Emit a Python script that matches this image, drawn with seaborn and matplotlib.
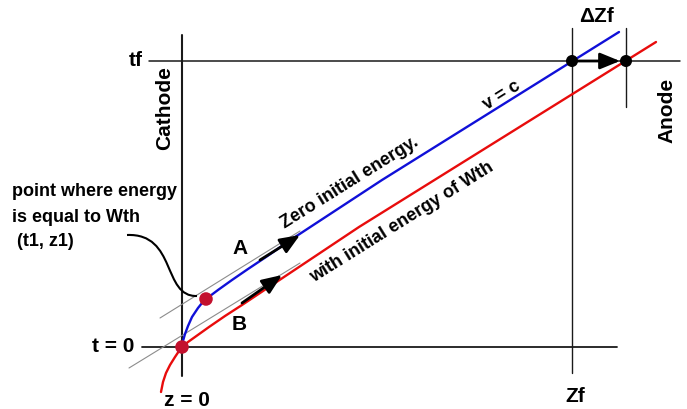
import matplotlib
matplotlib.use("Agg")
import matplotlib.pyplot as plt
from matplotlib.path import Path
from matplotlib.patches import PathPatch
import seaborn as sns

# z = distance from cathode, t = time (picture units, origin at z=0, t=0)
blue_z = [0, 1, 3, 6, 10, 16, 20, 24, 36, 50, 66, 84, 110, 200, 437]
blue_t = [0, 6, 13, 21, 30, 39, 44, 48, 57, 67, 78, 90, 108, 167, 315]

red_z = [-21, -19, -16, -12, -7, -3, 0, 6, 13, 27, 43, 60, 87, 177, 474]
red_t = [-45, -35, -26, -18, -10, -4, 0, 5, 10, 20, 31, 42, 60, 120, 305]

# thin tangent (asymptote) guides
guide_blue_z = [-22, 118]
guide_blue_t = [29, 116]
guide_red_z = [-53, 118]
guide_red_t = [-21, 84]

t_final = 286
z_final = 390
z_final_shift = 444

# red dots: start (0, 0) and point where energy = Wth (z1, t1)
red_dot_z = [0, 24]
red_dot_t = [0, 48]
black_dot_z = [z_final, z_final_shift]
black_dot_t = [t_final, t_final]

arrow_a = [(78, 87), (118, 112)]
arrow_b = [(60, 44), (100, 72)]
arrow_dz = [(z_final, t_final), (z_final_shift - 6, t_final)]

callout_path = [(-55, 112), (-5, 114), (-20, 50), (15, 51)]
callout_lines = ["point where energy", "is equal to Wth", " (t1, z1)"]

sns.set_theme(style="white")
plt.rcParams["font.family"] = ["Liberation Sans", "DejaVu Sans"]

fig = plt.figure(figsize=(6.87, 4.09), dpi=100)
ax = fig.add_axes([0, 0, 1, 1])
ax.set_xlim(-182, 505)
ax.set_ylim(-62, 347)
ax.axis("off")

ink = "#1a1a1a"
# frame lines
ax.plot([0, 0], [-29, 312], color=ink, lw=1.5, zorder=1)
ax.plot([-40, 435], [0, 0], color=ink, lw=1.3, zorder=1)
ax.plot([-33, 498], [t_final, t_final], color=ink, lw=1.1, zorder=1)
ax.plot([z_final, z_final], [-26, 319], color=ink, lw=1.0, zorder=1)
ax.plot([z_final_shift, z_final_shift], [240, 319], color=ink, lw=1.0, zorder=1)

# asymptote guides
ax.plot(guide_blue_z, guide_blue_t, color="#8c8c8c", lw=0.8, zorder=2)
ax.plot(guide_red_z, guide_red_t, color="#8c8c8c", lw=0.8, zorder=2)

# trajectories
sns.lineplot(x=blue_z, y=blue_t, sort=False, estimator=None, color="#1010d8", lw=1.7, ax=ax, zorder=3)
sns.lineplot(x=red_z, y=red_t, sort=False, estimator=None, color="#e80c0c", lw=1.7, ax=ax, zorder=3)

# arrows
for (start, tip) in [arrow_a, arrow_b, arrow_dz]:
    ax.annotate("", xy=tip, xytext=start,
                arrowprops=dict(arrowstyle="-|>,head_length=1.1,head_width=0.45",
                                mutation_scale=11, lw=2.0, color="black",
                                shrinkA=0, shrinkB=0), zorder=4)

# dots
ax.scatter(red_dot_z, red_dot_t, s=95, color="#c3112e", edgecolor="none", zorder=5)
ax.scatter(black_dot_z, black_dot_t, s=75, color="black", edgecolor="none", zorder=5)

# callout connector
codes = [Path.MOVETO, Path.CURVE4, Path.CURVE4, Path.CURVE4]
ax.add_patch(PathPatch(Path(callout_path, codes), fill=False, lw=1.5, edgecolor="black", zorder=4))

# labels
big = dict(fontsize=15, fontweight="bold", color="black")
small = dict(fontsize=13, fontweight="bold", color="black")
ax.text(-39, t_final, "tf", ha="right", va="center", **big)
ax.text(-48, 0, "t = 0", ha="right", va="center", **big)
ax.text(5, -53, "z = 0", ha="center", va="center", **big)
ax.text(z_final + 3, -50, "Zf", ha="center", va="center", **big)
ax.text(z_final + 24, 330, "\u0394Zf", ha="center", va="center", **big)
ax.text(-17, 239, "Cathode", rotation=90, ha="center", va="center", **big)
ax.text(485, 237, "Anode", rotation=90, ha="center", va="center", **big)
ax.text(58, 98, "A", ha="center", va="center", **big)
ax.text(57, 23, "B", ha="center", va="center", **big)

for i, line in enumerate(callout_lines):
    ax.text(-170, 155 - 25 * i, line, ha="left", va="center", **small)

ax.text(168, 164, "Zero initial energy.", rotation=32, ha="center", va="center",
        rotation_mode="anchor", **small)
ax.text(220, 125, "with initial energy of Wth", rotation=32, ha="center", va="center",
        rotation_mode="anchor", **small)
ax.text(320, 252, "v = c", rotation=32, ha="center", va="center",
        rotation_mode="anchor", **small)

fig.savefig("out.png", dpi=100)
